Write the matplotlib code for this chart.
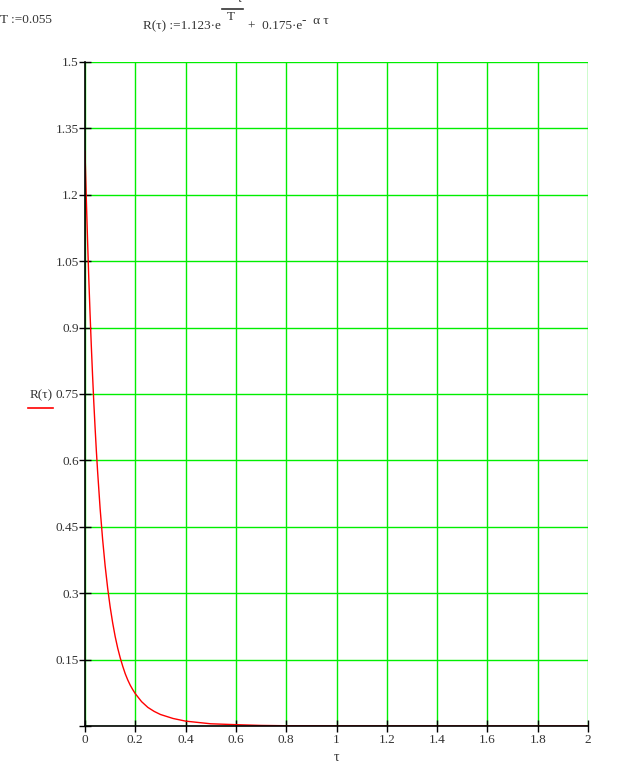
import numpy as np
import matplotlib.pyplot as plt
from matplotlib.lines import Line2D

# values
tau = [0.0, 0.005, 0.01, 0.015, 0.02, 0.025, 0.03, 0.035, 0.04, 0.045, 0.05,
       0.06, 0.07, 0.08, 0.09, 0.10, 0.11, 0.12, 0.13, 0.14, 0.15, 0.16, 0.17,
       0.18, 0.19, 0.20, 0.225, 0.25, 0.275, 0.30, 0.35, 0.40, 0.45, 0.50,
       0.60, 0.70, 0.80, 1.0, 1.5, 2.0]
R = [1.298, 1.195, 1.100, 1.012, 0.933, 0.860, 0.793, 0.731, 0.675, 0.623, 0.576,
     0.492, 0.422, 0.362, 0.312, 0.269, 0.233, 0.202, 0.176, 0.154, 0.135, 0.118,
     0.104, 0.092, 0.082, 0.073, 0.055, 0.042, 0.033, 0.026, 0.017, 0.011, 0.008,
     0.005, 0.003, 0.0013, 0.0006, 0.0002, 0.0, 0.0]

x_ticks = [0, 0.2, 0.4, 0.6, 0.8, 1.0, 1.2, 1.4, 1.6, 1.8, 2.0]
x_labels = ["0", "0.2", "0.4", "0.6", "0.8", "1", "1.2", "1.4", "1.6", "1.8", "2"]
y_ticks = [0, 0.15, 0.3, 0.45, 0.6, 0.75, 0.9, 1.05, 1.2, 1.35, 1.5]
y_labels = ["", "0.15", "0.3", "0.45", "0.6", "0.75", "0.9", "1.05", "1.2", "1.35", "1.5"]

plt.rcParams["font.family"] = ["Liberation Serif", "DejaVu Serif"]
txt = "#333333"

fig = plt.figure(figsize=(6.25, 7.82), dpi=100)
ax = fig.add_axes([85 / 625, 56 / 782, 503 / 625, 664 / 782])

ax.plot(tau, R, color="red", linewidth=1.0, zorder=3)

ax.set_xlim(0, 2)
ax.set_ylim(0, 1.5)
ax.set_xticks(x_ticks)
ax.set_xticklabels(x_labels)
ax.set_yticks(y_ticks)
ax.set_yticklabels(y_labels)
ax.tick_params(direction="inout", length=9, width=1, labelsize=9.5, colors="black",
               labelcolor=txt, pad=0)
ax.tick_params(axis="x", pad=1)
ax.grid(True, color="#00ee00", linewidth=1.0, zorder=1)
ax.set_axisbelow(True)

for s in ["top", "right"]:
    ax.spines[s].set_visible(False)
for s in ["left", "bottom"]:
    ax.spines[s].set_color("black")
    ax.spines[s].set_linewidth(1.2)
    ax.spines[s].set_zorder(4)

ax.set_xlabel("τ", fontsize=10, color=txt, labelpad=4)

# y label with legend line
fig.text(30 / 625, 1 - 395 / 782, "R(τ)", fontsize=9.5, color=txt, va="center")
fig.add_artist(Line2D([28 / 625, 53 / 625], [1 - 408 / 782, 1 - 408 / 782],
                      color="red", linewidth=1.2))

# header definitions
fig.text(0, 1 - 20 / 782, "T :=0.055", fontsize=9.5, color=txt, va="center")
fig.text(143 / 625, 1 - 26 / 782, "R(τ) :=1.123·e", fontsize=9.5, color=txt, va="center")
fig.text(227 / 625, 1 - 17 / 782, "T", fontsize=9.5, color=txt, va="center")
fig.text(226 / 625, 1 + 1 / 782, "-  τ", fontsize=9.5, color=txt, va="center")
fig.add_artist(Line2D([222 / 625, 243 / 625], [1 - 9 / 782, 1 - 9 / 782],
                      color=txt, linewidth=1.2))
fig.text(248 / 625, 1 - 26 / 782, "+  0.175·e", fontsize=9.5, color=txt, va="center")
fig.text(302 / 625, 1 - 21 / 782, "-  α τ", fontsize=9.5, color=txt, va="center")

fig.savefig("out.png", dpi=100)
